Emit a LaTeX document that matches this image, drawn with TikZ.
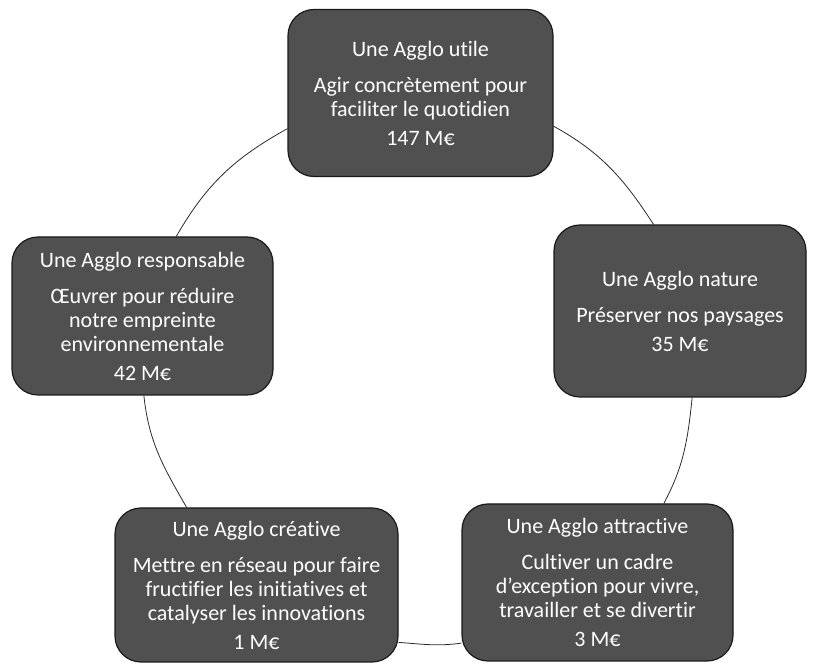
\documentclass[tikz,border=0pt]{standalone}
\usepackage{fontspec}
\setmainfont{Carlito}[Ligatures=NoCommon]
\usepackage{tikz}
\usepackage{xcolor}
\usetikzlibrary{positioning,calc}
\definecolor{slate}{HTML}{505050}
\definecolor{slateedge}{HTML}{1A1A1A}
\definecolor{ringink}{HTML}{2A2A2A}
\tikzset{
  stagebox/.style={draw=slateedge,fill=slate,line width=1.2pt,rounded corners=26pt,
                   align=center,text=white,inner sep=4pt,
                   font=\fontsize{22}{24}\selectfont},
  ringarc/.style={draw=ringink,line width=0.8pt}
}

\begin{document}
\begin{tikzpicture}[x=1pt,y=1pt]
  \useasboundingbox (0,0) rectangle (814,664);
  % the five stages round the cycle
  \node[stagebox,minimum width=265pt,minimum height=167pt] (utile) at (420.5,571)
    {Une Agglo utile\\[12pt]Agir concrètement pour\\faciliter le quotidien\\[5pt]147 M€};
  \node[stagebox,minimum width=252pt,minimum height=172pt] (nature) at (680,353)
    {Une Agglo nature\\[12pt]Préserver nos paysages\\[5pt]35 M€};
  \node[stagebox,minimum width=271pt,minimum height=157pt] (attract) at (597.5,81.5)
    {Une Agglo attractive\\[12pt]Cultiver un cadre\\d’exception pour vivre,\\travailler et se divertir\\[5pt]3 M€};
  \node[stagebox,minimum width=283pt,minimum height=154pt] (creat) at (256.5,79)
    {Une Agglo créative\\[12pt]Mettre en réseau pour faire\\fructifier les initiatives et\\catalyser les innovations\\[5pt]1 M€};
  \node[stagebox,minimum width=261pt,minimum height=158pt] (respons) at (142.5,348)
    {Une Agglo responsable\\[12pt]Œuvrer pour réduire\\notre empreinte\\environnementale\\[5pt]42 M€};
  % arcs of the ring between the stages
  \draw[ringarc] (utile.346) to[out=-29,in=123] (nature.107);
  \draw[ringarc] (nature.278) to[out=264,in=62] (attract.50);
  \draw[ringarc] (attract.204) to[out=188,in=356] (creat.338);
  \draw[ringarc] (creat.132) to[out=120,in=276] (respons.271);
  \draw[ringarc] (respons.67) to[out=60,in=209] (utile.195);
\end{tikzpicture}
\end{document}
